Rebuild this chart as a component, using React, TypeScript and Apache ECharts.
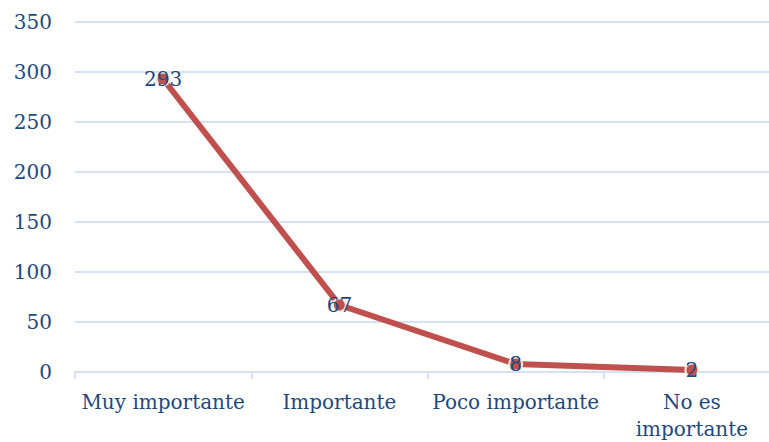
import React, { useEffect, useRef } from "react";
import * as echarts from "echarts";

const categories = ["Muy importante", "Importante", "Poco importante", "No es importante"];
const values = [293, 67, 8, 2];
const yTicks = [0, 50, 100, 150, 200, 250, 300, 350];

const TEXT = "#1F497D";
const FONT = "DejaVu Serif";
const GRID = "#D6E2F3";

export default function App() {
  const ref = useRef<HTMLDivElement>(null);

  useEffect(() => {
    if (!ref.current) return;
    const chart = echarts.init(ref.current, null, { renderer: "svg" });
    chart.setOption({
      animation: false,
      grid: { left: 75, right: 0, top: 22, bottom: 70, containLabel: false },
      xAxis: {
        type: "category",
        data: categories,
        boundaryGap: true,
        axisLine: { show: true, lineStyle: { color: GRID, width: 2 } },
        axisTick: { show: true, length: 7, lineStyle: { color: GRID, width: 2 } },
        axisLabel: {
          color: TEXT,
          fontFamily: FONT,
          fontSize: 20,
          margin: 16,
          lineHeight: 27,
          interval: 0,
          formatter: (v: string) => (v === "No es importante" ? "No es\nimportante" : v),
        },
      },
      yAxis: {
        type: "value",
        min: yTicks[0],
        max: yTicks[yTicks.length - 1],
        interval: 50,
        axisLine: { show: false },
        axisTick: { show: false },
        splitLine: { lineStyle: { color: GRID, width: 2 } },
        axisLabel: { color: TEXT, fontFamily: FONT, fontSize: 20, margin: 23 },
      },
      series: [
        {
          type: "line",
          data: values,
          lineStyle: { color: "#C0504D", width: 6 },
          symbol: "circle",
          symbolSize: 13,
          itemStyle: { color: "#C0504D", borderColor: "#EEE8DC", borderWidth: 2 },
          label: {
            show: true,
            position: "inside",
            color: TEXT,
            fontFamily: FONT,
            fontSize: 20,
          },
        },
      ],
    });
    return () => chart.dispose();
  }, []);

  return (
    <div style={{ position: "absolute", left: 0, top: 0, width: 769, height: 442, overflow: "hidden", background: "#fff" }}>
      <div ref={ref} style={{ width: 780, height: 442 }} />
    </div>
  );
}
